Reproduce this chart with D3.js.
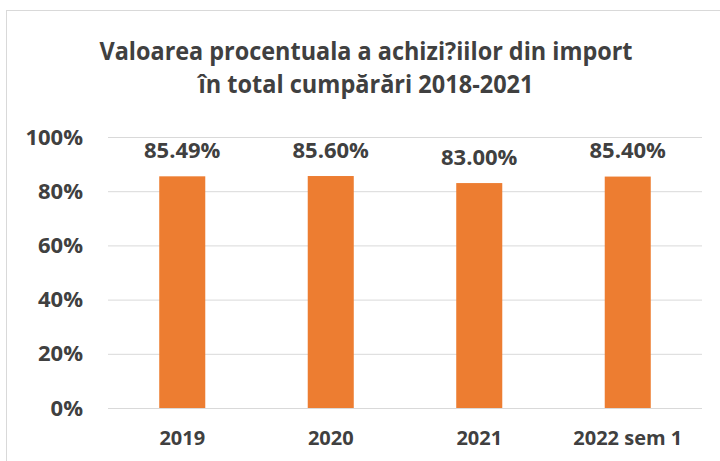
<!DOCTYPE html>
<html>
<head>
<meta charset="utf-8">
<script src="https://cdn.jsdelivr.net/npm/d3@7"></script>
<style>
  body { margin: 0; background: #fff; }
  text { font-family: "Open Sans", "Noto Sans", sans-serif; font-weight: bold; fill: #404040; }
</style>
</head>
<body>
<div class="content"></div>
<script>
// date
var categories = ['2019', '2020', '2021', '2022 sem 1'];
var values = [0.8549, 0.8560, 0.8300, 0.8540];
var valueLabels = ['85.49%', '85.60%', '83.00%', '85.40%'];
var yTicks = [0, 0.2, 0.4, 0.6, 0.8, 1];
var titleLines = ['Valoarea procentuala a achizi?iilor din import', 'în total cumpărări 2018-2021'];

// dimensiuni
var w = 720,
    h = 461;

var svg = d3.select('.content').append('svg')
    .attr('width', w)
    .attr('height', h);

// chenarul graficului
svg.append('rect')
    .attr('x', 6.5)
    .attr('y', 10.5)
    .attr('width', w + 20)
    .attr('height', h + 20)
    .attr('fill', '#fff')
    .attr('stroke', '#d9d9d9');

// scale
var x = d3.scaleBand()
    .domain(categories)
    .range([108, 702])
    .paddingInner(0.69)
    .paddingOuter(0.345);

var y = d3.scaleLinear()
    .domain([0, 1])
    .range([408, 137]);

// axa Y cu liniile de grila
var yAxis = svg.append('g')
    .attr('transform', 'translate(108,0)')
    .call(d3.axisLeft(y)
        .tickValues(yTicks)
        .tickSize(-(702 - 108))
        .tickPadding(25)
        .tickFormat(d3.format('.0%')));
yAxis.select('.domain').remove();
yAxis.selectAll('line').attr('stroke', '#d9d9d9');
yAxis.selectAll('text')
    .style('font-size', '22px')
    .attr('fill', '#404040');

// barele
svg.append('g').selectAll('rect')
    .data(values)
    .enter()
    .append('rect')
    .attr('x', function(d, i) { return x(categories[i]); })
    .attr('y', function(d) { return y(d); })
    .attr('width', x.bandwidth())
    .attr('height', function(d) { return y(0) - y(d); })
    .attr('fill', '#ed7d31');

// etichetele valorilor
svg.append('g').selectAll('text')
    .data(values)
    .enter()
    .append('text')
    .attr('x', function(d, i) { return x(categories[i]) + x.bandwidth() / 2; })
    .attr('y', function(d) { return y(d) - 18.5; })
    .attr('text-anchor', 'middle')
    .style('font-size', '22px')
    .text(function(d, i) { return valueLabels[i]; });

// axa X
var xAxis = svg.append('g')
    .attr('transform', 'translate(0,408)')
    .call(d3.axisBottom(x).tickSize(0));
xAxis.select('.domain').remove();
xAxis.selectAll('text')
    .attr('dy', null)
    .attr('y', 37)
    .attr('fill', '#404040')
    .style('font-size', '20px');

// titlul
svg.append('g').selectAll('text')
    .data(titleLines)
    .enter()
    .append('text')
    .attr('x', 366)
    .attr('y', function(d, i) { return 60 + i * 33.3; })
    .attr('text-anchor', 'middle')
    .attr('textLength', function(d, i) { return i === 0 ? 533 : 335; })
    .attr('lengthAdjust', 'spacingAndGlyphs')
    .style('font-size', '25px')
    .text(function(d) { return d; });
</script>
</body>
</html>
